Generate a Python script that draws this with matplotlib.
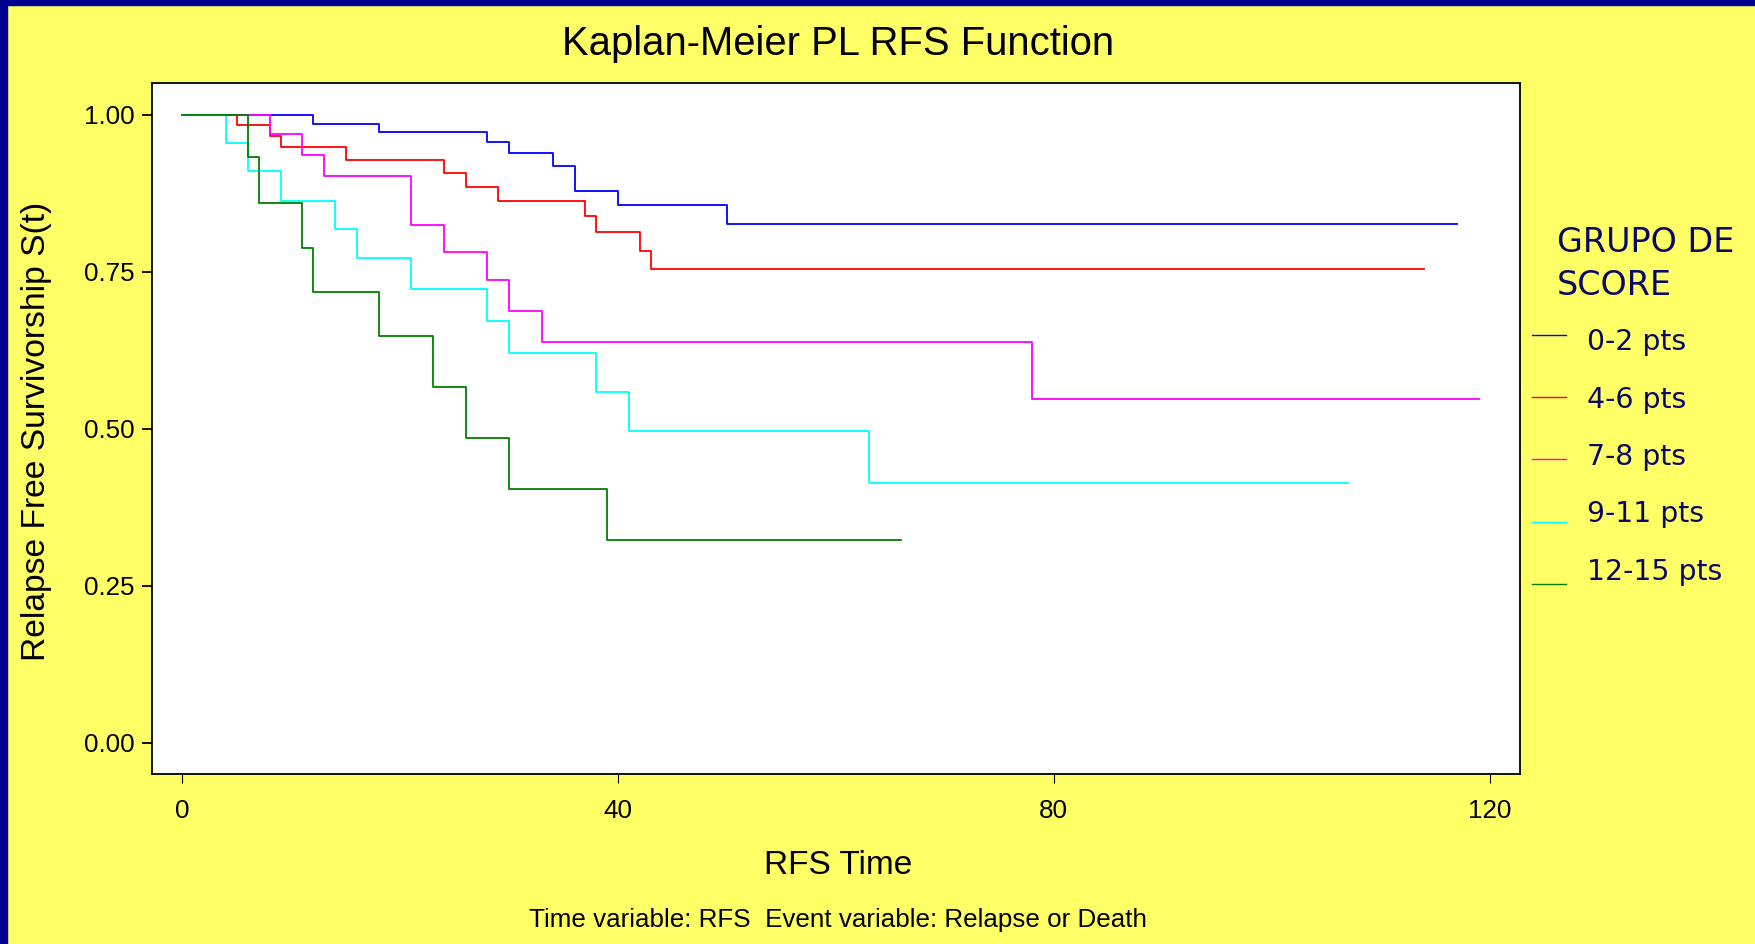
import matplotlib
matplotlib.use('Agg')
import matplotlib.pyplot as plt
from matplotlib.patches import Rectangle
from matplotlib.lines import Line2D

# curvas de Kaplan-Meier (tempo da queda, sobrevida depois da queda)
grupos = ['0-2 pts', '4-6 pts', '7-8 pts', '9-11 pts', '12-15 pts']
cores = ['#0000ff', '#ff0000', '#ff00ff', '#00ffff', '#008000']

t_02 = [0, 12, 18, 28, 30, 34, 36, 40, 50, 117]
s_02 = [1.0, 0.986, 0.972, 0.957, 0.939, 0.918, 0.878, 0.856, 0.826, 0.826]

t_46 = [0, 5, 8, 9, 15, 24, 26, 29, 37, 38, 42, 43, 114]
s_46 = [1.0, 0.984, 0.966, 0.948, 0.928, 0.907, 0.885, 0.863, 0.838, 0.813, 0.783, 0.754, 0.754]

t_78 = [0, 8, 11, 13, 21, 24, 28, 30, 33, 78, 119]
s_78 = [1.0, 0.970, 0.936, 0.902, 0.824, 0.781, 0.737, 0.688, 0.638, 0.548, 0.548]

t_911 = [0, 4, 6, 9, 14, 16, 21, 28, 30, 38, 41, 63, 107]
s_911 = [1.0, 0.955, 0.910, 0.863, 0.818, 0.772, 0.723, 0.672, 0.620, 0.559, 0.496, 0.413, 0.413]

t_1215 = [0, 6, 7, 11, 12, 18, 23, 26, 30, 39, 66]
s_1215 = [1.0, 0.932, 0.860, 0.788, 0.717, 0.647, 0.566, 0.485, 0.404, 0.323, 0.323]

tempos = [t_02, t_46, t_78, t_911, t_1215]
sobrevida = [s_02, s_46, s_78, s_911, s_1215]

x_ticks = [0, 40, 80, 120]
y_ticks = [0.0, 0.25, 0.50, 0.75, 1.0]
y_labels = ['0.00', '0.25', '0.50', '0.75', '1.00']

W, H = 1756, 944
def fx(px): return px / W
def fy(py): return 1 - py / H

plt.rcParams['font.family'] = ['Liberation Sans', 'DejaVu Sans']

fig = plt.figure(figsize=(W / 100, H / 100), dpi=100)
fig.patch.set_facecolor('#ffff66')

# bordas azuis do slide
fig.patches.append(Rectangle((0, 0), fx(7), 1, transform=fig.transFigure, color='#000090', zorder=0))
fig.patches.append(Rectangle((0, fy(5)), 1, 5 / H, transform=fig.transFigure, color='#000090', zorder=0))

ax = fig.add_axes([fx(152), fy(774), fx(1520) - fx(152), fy(83) - fy(774)])
ax.set_facecolor('white')

for t, s, c, g in zip(tempos, sobrevida, cores, grupos):
    ax.step(t, s, where='post', color=c, lw=1.3, label=g)

ax.set_xlim(-2.8, 122.8)
ax.set_ylim(-0.0498, 1.0505)
ax.set_xticks(x_ticks)
ax.set_yticks(y_ticks)
ax.set_yticklabels(y_labels)

for sp in ax.spines.values():
    sp.set_linewidth(1.3)
ax.tick_params(axis='y', length=7, width=1.3, pad=5.8, labelsize=18.7)
ax.tick_params(axis='x', length=6.5, width=0.8, pad=11.5, labelsize=18.7)

fig.text(fx(838), fy(44), 'Kaplan-Meier PL RFS Function', fontsize=28.8, ha='center', va='center')
fig.text(fx(37), fy(431), 'Relapse Free Survivorship S(t)', fontsize=24.2, rotation=90,
         ha='center', va='center')
fig.text(fx(838), fy(866), 'RFS Time', fontsize=24, ha='center', va='center')
fig.text(fx(838), fy(920), 'Time variable: RFS  Event variable: Relapse or Death', fontsize=18.7,
         ha='center', va='center')

# legenda manual
azul_escuro = '#0a0a66'
fig.text(fx(1557), fy(252), 'GRUPO DE', fontsize=24, color=azul_escuro, family='DejaVu Sans', va='baseline')
fig.text(fx(1557), fy(295), 'SCORE', fontsize=24, color=azul_escuro, family='DejaVu Sans', va='baseline')
for i, (g, c) in enumerate(zip(grupos, cores)):
    yl = 335 + 62.2 * i
    yt = 342 + 57.5 * i
    fig.add_artist(Line2D([fx(1532), fx(1566)], [fy(yl), fy(yl)], color=c, lw=1.0,
                          transform=fig.transFigure))
    fig.text(fx(1587), fy(yt), g, fontsize=20.4, color=azul_escuro, family='DejaVu Sans', va='center')

fig.savefig('out.png', dpi=100, facecolor=fig.get_facecolor())
